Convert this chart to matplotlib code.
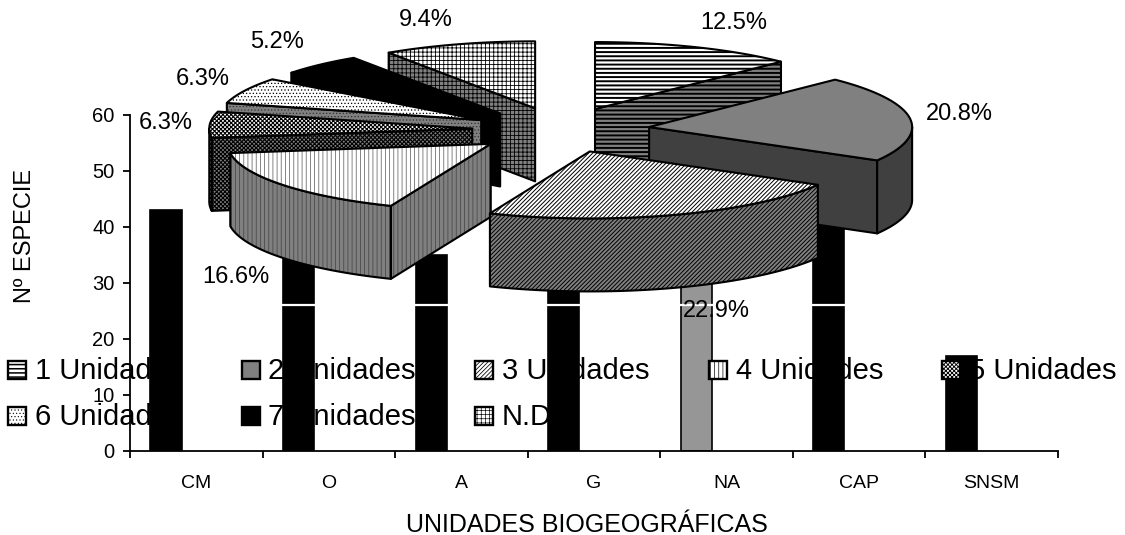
import numpy as np
import matplotlib
matplotlib.use("Agg")
import matplotlib.pyplot as plt
from matplotlib.patches import Polygon, Rectangle

plt.rcParams['font.family'] = ['Liberation Sans', 'DejaVu Sans']

# barras
categorias = ['CM', 'O', 'A', 'G', 'NA', 'CAP', 'SNSM']
n_especies = [43, 36, 35, 35, 32, 41, 17]
colores_barras = ['black', 'black', 'black', 'black', '#969696', 'black', 'black']
y_ticks = [0, 10, 20, 30, 40, 50, 60]
linea_blanca = 26

# torta
unidades = ['1 Unidad', '2 Unidades', '3 Unidades', '4 Unidades', '5 Unidades',
            '6 Unidades', '7 Unidades', 'N.D']
porcentajes = [12.5, 20.8, 22.9, 16.6, 6.3, 6.3, 5.2, 9.4]

W, H = 1125, 535
fig = plt.figure(figsize=(W / 100, H / 100), dpi=100)

def pixel_axes(z):
    a = fig.add_axes([0, 0, 1, 1], zorder=z)
    a.set_xlim(0, W)
    a.set_ylim(H, 0)
    a.axis('off')
    a.patch.set_alpha(0)
    return a

ax_fondo = pixel_axes(0)
ax_arriba = pixel_axes(2)

# ejes de las barras
ax = fig.add_axes([130 / W, 1 - 451 / H, 928 / W, 336 / H], zorder=1)
ax.patch.set_alpha(0)
x = np.arange(len(categorias))
ax.bar(x + 0.272, n_especies, width=0.235, color=colores_barras, edgecolor='black', linewidth=1.2, zorder=2)
ax.hlines(linea_blanca, 1, 7, color='white', linewidth=1.6, zorder=3)
ax.set_xlim(0, 7)
ax.set_ylim(0, 60)
ax.spines['top'].set_visible(False)
ax.spines['right'].set_visible(False)
ax.spines['left'].set_linewidth(1.3)
ax.spines['bottom'].set_linewidth(1.3)
ax.set_yticks(y_ticks)
ax.set_xticks(np.arange(8))
ax.set_xticklabels([])
ax.set_xticks(x + 0.5, minor=True)
ax.set_xticklabels(categorias, minor=True, fontsize=14)
ax.tick_params(axis='x', which='major', length=5, width=1.3)
ax.tick_params(axis='x', which='minor', length=0, pad=17)
ax.tick_params(axis='y', length=5, width=1.3, labelsize=14.5, pad=6)
ax.set_xlabel('UNIDADES BIOGEOGRÁFICAS', fontsize=18, va='center')
ax.xaxis.set_label_coords((587 - 130) / 928, (451 - 525) / 336)
ax.set_ylabel('Nº ESPECIE', fontsize=17, va='center')
ax.yaxis.set_label_coords((25 - 130) / 928, (451 - 235.5) / 336)

# geometria de la torta 3D
cx, cy = 561, 130
rx, ry = 263, 67
alto = 73
explosion = 0.338

# hatch, ancho de linea, color tapa, color pared, color hatch tapa, color hatch pared
estilos = [
    ('----', 1.4, 'white', '#808080', 'black', 'black'),
    (None, 0, '#808080', '#404040', 'black', 'black'),
    ('////////', 0.7, 'white', '#808080', 'black', 'black'),
    ('||||', 0.6, 'white', '#808080', '#707070', '#4a4a4a'),
    ('xxxxxxxx', 0.8, 'white', '#808080', 'black', 'black'),
    ('.....', 0.5, 'white', '#808080', 'black', '#303030'),
    (None, 0, 'black', 'black', 'black', 'black'),
    ('++++', 0.6, 'white', '#808080', 'black', 'black'),
]

def punto(a, ox, oy, dy=0):
    return ox + rx * np.sin(a), oy - ry * np.cos(a) + dy

def cara(a, puntos, estilo, color, color_hatch):
    plt.rcParams['hatch.linewidth'] = max(estilo[1], 0.1)
    # relleno con hatch y despues el contorno negro, asi el hatch puede ser gris
    a.add_patch(Polygon(puntos, closed=True, facecolor=color, edgecolor=color_hatch,
                        hatch=estilo[0], linewidth=0))
    a.add_patch(Polygon(puntos, closed=True, facecolor='none', edgecolor='black',
                        linewidth=1.5, joinstyle='round'))

def dibujar_porcion(i, ini, fin):
    est = estilos[i]
    medio = (ini + fin) / 2
    ox = cx + explosion * rx * np.sin(medio)
    oy = cy - explosion * ry * np.cos(medio)
    # paredes radiales visibles
    for ang, normal in ((ini, ini - np.pi / 2), (fin, fin + np.pi / 2)):
        if np.cos(normal) < -1e-6:
            px, py = punto(ang, ox, oy)
            cara(ax_arriba, [(ox, oy), (px, py), (px, py + alto), (ox, oy + alto)], est, est[3], est[5])
    # pared exterior (parte de adelante)
    a0, a1 = max(ini, np.pi / 2), min(fin, 3 * np.pi / 2)
    if a1 > a0:
        arco = np.linspace(a0, a1, 50)
        arriba = [punto(t, ox, oy) for t in arco]
        abajo = [punto(t, ox, oy, alto) for t in arco[::-1]]
        cara(ax_arriba, arriba + abajo, est, est[3], est[5])
    # tapa
    arco = np.linspace(ini, fin, 80)
    cara(ax_arriba, [(ox, oy)] + [punto(t, ox, oy) for t in arco], est, est[2], est[4])

limites = np.concatenate([[0], np.cumsum(porcentajes)]) / sum(porcentajes) * 2 * np.pi
for i in [7, 0, 6, 5, 4, 1, 3, 2]:
    dibujar_porcion(i, limites[i], limites[i + 1])

# etiquetas de porcentaje
pos_etiquetas = [(734, 23), (959, 114), (716, 311), (236, 277), (166, 123), (203, 79), (277, 42), (426, 20)]
for v, (px, py) in zip(porcentajes, pos_etiquetas):
    ax_arriba.text(px, py, f'{v:.1f}%', fontsize=17, ha='center', va='center', color='black')

# leyenda: el texto queda debajo de las barras, los cuadritos encima
for i, nombre in enumerate(unidades):
    col, fila = i % 5, i // 5
    mx = 8 + 233.5 * col
    my = 361 + 46 * fila
    est = estilos[i]
    plt.rcParams['hatch.linewidth'] = max(est[1] * 0.8, 0.1)
    ax_arriba.add_patch(Rectangle((mx, my), 18, 18, facecolor=est[2], edgecolor='black',
                                  hatch=est[0], linewidth=1.7))
    ax_fondo.text(mx + 27, my + 10, nombre, fontsize=21, ha='left', va='center', color='black')

fig.savefig('out.png', dpi=100)
